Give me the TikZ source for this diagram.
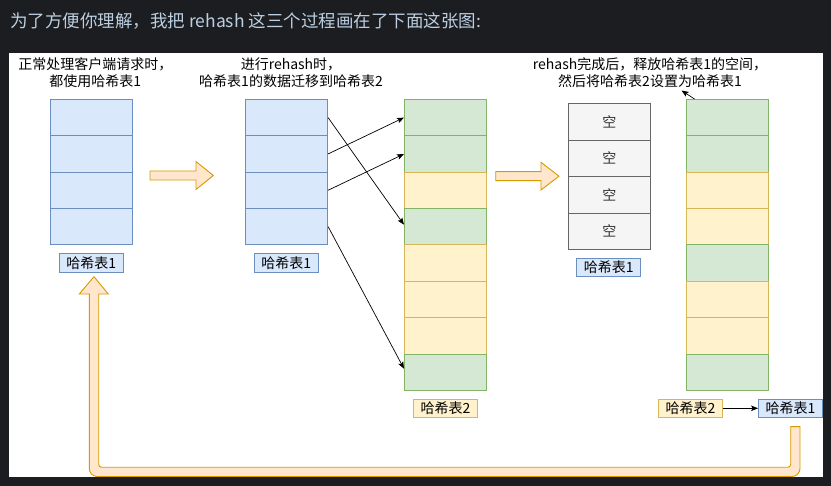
\documentclass[tikz,border=0pt]{standalone}
\usepackage{fontspec}
\setmainfont{Noto Sans CJK SC}
\usetikzlibrary{arrows.meta}
\definecolor{bg}{HTML}{1C1D20}
\definecolor{hdr}{HTML}{BCCFE2}
\definecolor{bfill}{HTML}{DAE8FC}\definecolor{bdraw}{HTML}{6C8EBF}
\definecolor{gfill}{HTML}{D5E8D4}\definecolor{gdraw}{HTML}{82B366}
\definecolor{yfill}{HTML}{FFF2CC}\definecolor{ydraw}{HTML}{D6B656}
\definecolor{efill}{HTML}{F5F5F5}\definecolor{edraw}{HTML}{666666}
\definecolor{ofill}{HTML}{FFE6CC}\definecolor{odraw}{HTML}{D79B00}
\definecolor{etext}{HTML}{333333}
\newcommand{\dfs}{\fontsize{14}{16.8}\selectfont}
\newcommand{\hfs}{\fontsize{17.5}{20}\selectfont}
\begin{document}
\begin{tikzpicture}[x=1pt,y=-1pt,
  cell/.style={draw, line width=0.8pt, minimum width=82pt, minimum height=36.4pt, inner sep=0pt, anchor=north west, font=\dfs},
  lbl/.style={draw, line width=0.8pt, minimum width=64pt, minimum height=18.5pt, inner sep=0pt, font=\dfs},
  ttl/.style={align=center, font=\dfs, inner sep=0pt},
  con/.style={draw=black, line width=0.7pt, -{Stealth[length=7pt,width=5.5pt,inset=1.5pt]}},
  blk/.style={fill=ofill, draw=odraw, line width=0.9pt}]
\useasboundingbox (0,0) rectangle (831,486);
\fill[bg] (0,0) rectangle (831,486);
\fill[white] (9,53) rectangle (823,477);
\node[anchor=west, text=hdr, font=\hfs, inner sep=0pt] (hdr) at (10,21.5) {为了方便你理解，我把 rehash 这三个过程画在了下面这张图:};

% titles
\node[ttl] (t1) at (95.3,72.5) {正常处理客户端请求时，\\都使用哈希表1};
\node[ttl] (t2) at (291,72.5) {进行rehash时，\\哈希表1的数据迁移到哈希表2};
\node[ttl] (t3) at (650,73) {rehash完成后，释放哈希表1的空间，\\然后将哈希表2设置为哈希表1};

% table 1
\foreach \i in {0,...,3}
  \node[cell, fill=bfill, draw=bdraw] (a\i) at (50,{99+\i*36.33}) {};
\node[lbl, fill=bfill, draw=bdraw] (la) at (91.3,262.7) {哈希表1};

% table 2
\foreach \i in {0,...,3}
  \node[cell, fill=bfill, draw=bdraw] (b\i) at (245.3,{99+\i*36.33}) {};
\node[lbl, fill=bfill, draw=bdraw] (lb) at (286.3,262.7) {哈希表1};

% table 3 (hash table 2)
\foreach \f/\d [count=\i from 0] in {gfill/gdraw,gfill/gdraw,yfill/ydraw,gfill/gdraw,yfill/ydraw,yfill/ydraw,yfill/ydraw,gfill/gdraw}
  \node[cell, fill=\f, draw=\d] (c\i) at (404,{99+\i*36.375}) {};
\node[lbl, fill=yfill, draw=ydraw] (lc) at (445.5,408.3) {哈希表2};

% table 4 (empty)
\foreach \i in {0,...,3}
  \node[cell, fill=efill, draw=edraw, text=etext] (d\i) at (568,{103.3+\i*36.5}) {空};
\node[lbl, fill=bfill, draw=bdraw] (ld) at (608.8,267.3) {哈希表1};

% table 5
\foreach \f/\d [count=\i from 0] in {gfill/gdraw,gfill/gdraw,yfill/ydraw,yfill/ydraw,gfill/gdraw,yfill/ydraw,yfill/ydraw,gfill/gdraw}
  \node[cell, fill=\f, draw=\d] (e\i) at (686,{99+\i*36.375}) {};
\node[lbl, fill=yfill, draw=ydraw] (le2) at (690.5,408.3) {哈希表2};
\node[lbl, fill=bfill, draw=bdraw] (le1) at (790.5,408.3) {哈希表1};

% migration connectors
\draw[con] (b0.east) -- ([yshift=2pt]c3.west);
\draw[con] (b1.east) -- (c0.west);
\draw[con] (b2.east) -- (c1.west);
\draw[con] (b3.east) -- ([yshift=3.5pt]c7.west);
\draw[con] (le2) -- (le1);
\coordinate (ptop) at (694.5,99);
\coordinate (ptip) at (681.5,90.5);
\draw[con] (ptop) -- (ptip);

% block arrows
\draw[blk] (150,171) -- (196,171) -- (196,161.5) -- (213.3,175.5) -- (196,189.5) -- (196,180) -- (150,180) -- cycle;
\draw[blk] (495.7,171.7) -- (541,171.7) -- (541,162.3) -- (559,176.2) -- (541,190) -- (541,180.7) -- (495.7,180.7) -- cycle;

% return arrow
\draw[blk] (790.7,426.7) -- (800,426.7) -- (800,440) [rounded corners=8pt] -- (800,476.5) -- (89.3,476.5) -- (89.3,440) [sharp corners] -- (89.3,294) -- (79.3,294) -- (94,276.7) -- (108.3,294) -- (98.7,294) -- (98.7,440) [rounded corners=3pt] -- (98.7,467.3) -- (790.7,467.3) -- (790.7,440) [sharp corners] -- cycle;
\end{tikzpicture}
\end{document}
